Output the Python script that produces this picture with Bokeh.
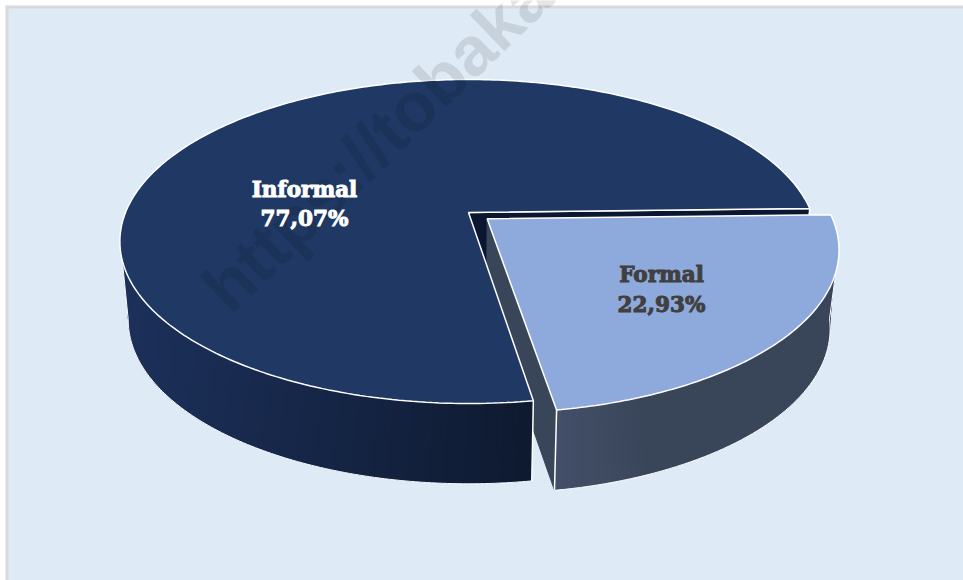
import numpy as np
from bokeh.plotting import figure
from bokeh.models import Range1d
from bokeh.core.properties import value
from bokeh.embed import file_html
from bokeh.resources import INLINE

categories = ["Informal", "Formal"]
shares = [77.07, 22.93]
watermark = "https://tobaka"

W, H = 963, 580
BG = "#deeaf6"
AX, AY = 468.0, 212.0        # pie centre in page pixels
RX, RY, K = 343.0, 156.8, 0.179   # perspective circle
DEPTH, SX, SY = 78.0, 0.976, 1.012
START = -1.5                 # degrees where Formal starts
EX, EY = 0.054, 0.040        # explosion of Formal


def top(theta, ox=0.0, oy=0.0, r=1.0):
    u = r * np.cos(np.radians(theta)) + ox
    v = r * np.sin(np.radians(theta)) + oy
    w = 1 - K * v
    return AX + RX * u / w, AY + RY * v / w


def bottom(theta, ox=0.0, oy=0.0, r=1.0):
    u = r * np.cos(np.radians(theta)) + ox
    v = r * np.sin(np.radians(theta)) + oy
    w = 1 - K * v
    return AX + SX * RX * u / w, AY + DEPTH + SY * RY * v / w


def mix(a, b, t):
    a = np.array([int(a[i:i + 2], 16) for i in (1, 3, 5)], float)
    b = np.array([int(b[i:i + 2], 16) for i in (1, 3, 5)], float)
    c = a + (b - a) * min(max(t, 0), 1)
    return "#%02x%02x%02x" % tuple(int(round(x)) for x in c)


def side(p, top_angles, bot_angles, ox, oy, col_a, col_b, x_a, x_b):
    """Shaded outer wall: overlapping strips, so no seams appear."""
    n = len(top_angles)
    xs, ys, colors = [], [], []
    for i in range(n - 1):
        j = min(i + 3, n - 1)
        x0, y0 = top(top_angles[i], ox, oy)
        x1, y1 = top(top_angles[j], ox, oy)
        x2, y2 = bottom(bot_angles[j], ox, oy)
        x3, y3 = bottom(bot_angles[i], ox, oy)
        xs.append([x0, x1, x2, x3])
        ys.append([y0, y1, y2, y3])
        colors.append(mix(col_a, col_b, (0.5 * (x0 + x3) - x_a) / (x_b - x_a)))
    p.patches(xs, ys, fill_color=colors, line_color=None)


p = figure(width=W, height=H, x_range=Range1d(0, W), y_range=Range1d(H, 0),
           output_backend="svg", toolbar_location=None, min_border=0,
           background_fill_color="white", border_fill_color="white")
p.axis.visible = False
p.grid.visible = False
p.outline_line_color = None

p.quad(left=[5], right=[W], top=[5], bottom=[H], fill_color="#d9d9d9", line_color=None)
p.quad(left=[8], right=[W], top=[8], bottom=[H], fill_color=BG, line_color=None)

sweep_formal = shares[1] / sum(shares) * 360
a0, a1 = START, START + sweep_formal      # Formal span
OUT = "white"

# ---- main slice: wall behind the notch
cx, cy = top(a0)
bx, by = bottom(a0)
tx0, ty0 = top(0, r=0)
bx0, by0 = bottom(0, r=0)
p.patch([tx0, cx, bx, bx0], [ty0, cy, by, by0], fill_color="#0b1630", line_color=OUT, line_width=1.5)

# ---- Formal inner wall
fx0, fy0 = top(0, EX, EY, r=0)
fbx0, fby0 = bottom(0, EX, EY, r=0)
fx1, fy1 = top(a1, EX, EY)
fbx1, fby1 = bottom(a1, EX, EY)
p.patch([fx0, fx1, fbx1, fbx0], [fy0, fy1, fby1, fby0], fill_color="#39465a", line_color="#39465a", line_width=1)

# ---- main slice: outer side
N = 120
t_top = np.linspace(a1, 163, N)
t_bot = np.linspace(a1, 169.7, N)
side(p, t_top, t_bot, 0, 0, "#1c305a", "#0e1a30", 130, 530)
bxs, bys = bottom(t_bot)
tx_end, ty_end = top(t_top[-1])
p.line(np.r_[tx_end, bxs[::-1]], np.r_[ty_end, bys[::-1]], line_color=OUT, line_width=1)
ex0, ey0 = top(a1)
ex1, ey1 = bottom(a1)
p.line([ex0, ex1], [ey0, ey1], line_color=OUT, line_width=1.5)

# ---- main slice: top
arc = np.linspace(a1, a0 + 360, 300)
ax, ay = top(arc)
p.patch(np.r_[tx0, ax], np.r_[ty0, ay], fill_color="#1f3864", line_color=OUT, line_width=1.5)

# ---- Formal outer side
t_top = np.linspace(a1, 18.5, 60)
t_bot = np.linspace(a1, 7.6, 60)
side(p, t_top, t_bot, EX, EY, "#434f68", "#39465a", 556, 640)
bxs, bys = bottom(t_bot, EX, EY)
tx_end, ty_end = top(t_top[-1], EX, EY)
p.line(np.r_[bxs, tx_end], np.r_[bys, ty_end], line_color=OUT, line_width=1)
p.line([fx1, fbx1], [fy1, fby1], line_color=OUT, line_width=1.5)

# ---- Formal top
arc = np.linspace(a0, a1, 120)
ax, ay = top(arc, EX, EY)
p.patch(np.r_[fx0, ax], np.r_[fy0, ay], fill_color="#8ea9db", line_color=OUT, line_width=1.5)

# ---- watermark
p.text([214], [298], text=[watermark], angle=np.radians(44), text_font=value("Liberation Sans"),
       text_font_style="bold", text_font_size="69px", text_color="black", text_alpha=0.1,
       text_baseline="alphabetic", text_align="left")

# ---- labels
lab = {"Informal": (304, 189, 218, "white"), "Formal": (661, 274, 304, "#404040")}
for name, v in zip(categories, shares):
    x, y1, y2, col = lab[name]
    for y, s in ((y1, name), (y2, f"{v:.2f}%".replace(".", ","))):
        p.text([x], [y], text=[s], text_font=value("DejaVu Serif"), text_font_style="bold",
               text_font_size="21.5px", text_color=col, text_align="center", text_baseline="middle",
               text_outline_color=col)

open("out.html", "w").write(file_html(p, INLINE))
